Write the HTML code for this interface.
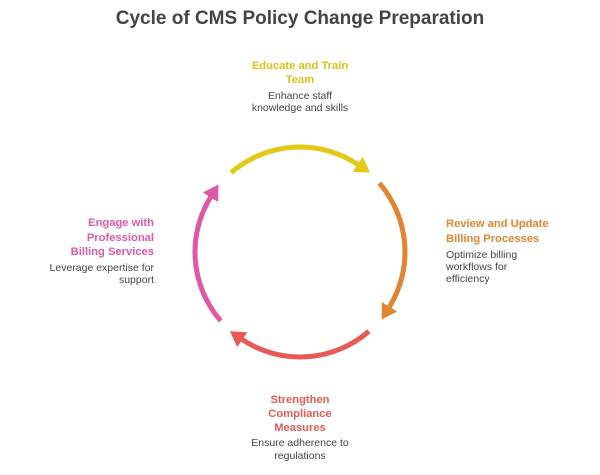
<!DOCTYPE html>
<html><head><meta charset="utf-8"><style>
html,body{margin:0;padding:0;background:#fff;}
svg{display:block;font-family:"Liberation Sans",Arial,sans-serif;}
.t{font-weight:bold;font-size:11.2px;}
.b{font-size:10.5px;fill:#444;}
</style></head><body>
<svg width="600" height="475" viewBox="0 0 600 475">
<defs>
<marker id="my" markerUnits="userSpaceOnUse" markerWidth="16" markerHeight="18" refX="1" refY="9" orient="auto"><path d="M0,0 L15,9 L0,18 z" fill="#E2C915"/></marker>
<marker id="mo" markerUnits="userSpaceOnUse" markerWidth="16" markerHeight="18" refX="1" refY="9" orient="auto"><path d="M0,0 L15,9 L0,18 z" fill="#E08530"/></marker>
<marker id="mr" markerUnits="userSpaceOnUse" markerWidth="16" markerHeight="18" refX="1" refY="9" orient="auto"><path d="M0,0 L15,9 L0,18 z" fill="#E85A55"/></marker>
<marker id="mp" markerUnits="userSpaceOnUse" markerWidth="16" markerHeight="18" refX="1" refY="9" orient="auto"><path d="M0,0 L15,9 L0,18 z" fill="#DE58A8"/></marker>
</defs>
<text x="300" y="24" text-anchor="middle" font-size="19" font-weight="bold" fill="#444">Cycle of CMS Policy Change Preparation</text>
<g fill="none" stroke-width="5">
<path d="M231.1,172.7 A105,105 0 0 1 358.5,164.9" stroke="#E2C915" marker-end="url(#my)"/>
<path d="M379.3,183.1 A105,105 0 0 1 389.0,307.6" stroke="#E08530" marker-end="url(#mo)"/>
<path d="M368.9,331.3 A105,105 0 0 1 241.5,339.1" stroke="#E85A55" marker-end="url(#mr)"/>
<path d="M220.7,320.9 A105,105 0 0 1 211.0,196.4" stroke="#DE58A8" marker-end="url(#mp)"/>
</g>
<g text-anchor="middle">
<text class="t" fill="#D9C117" x="300" y="69">Educate and Train</text>
<text class="t" fill="#D9C117" x="300" y="83">Team</text>
<text class="b" x="300" y="99">Enhance staff</text>
<text class="b" x="300" y="111">knowledge and skills</text>
<text class="t" fill="#E85A55" x="300" y="403">Strengthen</text>
<text class="t" fill="#E85A55" x="300" y="417">Compliance</text>
<text class="t" fill="#E85A55" x="300" y="431">Measures</text>
<text class="b" x="300" y="446">Ensure adherence to</text>
<text class="b" x="300" y="459">regulations</text>
</g>
<g text-anchor="end">
<text class="t" fill="#DE58A8" x="154" y="226">Engage with</text>
<text class="t" fill="#DE58A8" x="154" y="241">Professional</text>
<text class="t" fill="#DE58A8" x="154" y="255">Billing Services</text>
<text class="b" x="154" y="271">Leverage expertise for</text>
<text class="b" x="154" y="283">support</text>
</g>
<g>
<text class="t" fill="#E08530" x="446" y="227">Review and Update</text>
<text class="t" fill="#E08530" x="446" y="242">Billing Processes</text>
<text class="b" x="446" y="258">Optimize billing</text>
<text class="b" x="446" y="270">workflows for</text>
<text class="b" x="446" y="282">efficiency</text>
</g>
</svg>
</body></html>
